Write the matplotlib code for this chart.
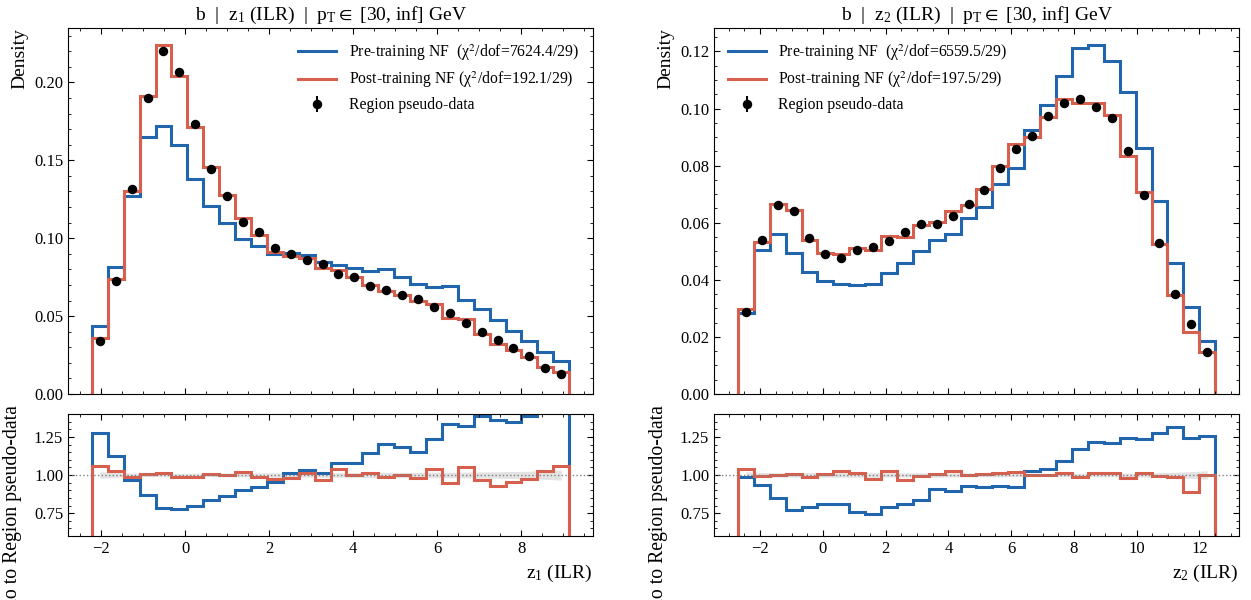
import matplotlib
matplotlib.use("Agg")
import matplotlib.pyplot as plt
import numpy as np
from matplotlib.ticker import AutoMinorLocator

plt.rcParams['font.family'] = 'serif'
plt.rcParams['font.serif'] = ['Liberation Serif', 'DejaVu Serif']
plt.rcParams['mathtext.fontset'] = 'stix'

# ---- z1 panel ----
z1_lo, z1_hi = -2.22, 9.14
z1_data = [0.0341, 0.0722, 0.1317, 0.1900, 0.2204, 0.2065, 0.1733, 0.1446, 0.1272, 0.1107,
           0.1037, 0.0940, 0.0898, 0.0861, 0.0835, 0.0769, 0.0752, 0.0690, 0.0668, 0.0634,
           0.0611, 0.0557, 0.0518, 0.0458, 0.0396, 0.0349, 0.0298, 0.0244, 0.0167, 0.0130]
z1_pre = [0.0436, 0.0812, 0.1271, 0.1651, 0.1721, 0.1600, 0.1381, 0.1209, 0.1099, 0.0995,
          0.0953, 0.0899, 0.0908, 0.0889, 0.0844, 0.0828, 0.0810, 0.0791, 0.0805, 0.0752,
          0.0703, 0.0687, 0.0690, 0.0605, 0.0548, 0.0475, 0.0402, 0.0339, 0.0272, 0.0212]
z1_post = [0.0361, 0.0741, 0.1303, 0.1913, 0.2237, 0.2042, 0.1714, 0.1459, 0.1275, 0.1131,
           0.1021, 0.0914, 0.0883, 0.0870, 0.0807, 0.0797, 0.0752, 0.0700, 0.0658, 0.0634,
           0.0598, 0.0578, 0.0490, 0.0483, 0.0383, 0.0324, 0.0285, 0.0237, 0.0171, 0.0138]
z1_relerr = [0.022, 0.016, 0.012, 0.010, 0.010, 0.010, 0.011, 0.012, 0.012, 0.013,
             0.013, 0.014, 0.014, 0.014, 0.015, 0.015, 0.015, 0.016, 0.016, 0.017,
             0.017, 0.018, 0.018, 0.019, 0.020, 0.021, 0.023, 0.025, 0.029, 0.033]

# ---- z2 panel ----
z2_lo, z2_hi = -2.71, 12.50
z2_data = [0.0288, 0.0539, 0.0662, 0.0642, 0.0545, 0.0490, 0.0478, 0.0504, 0.0516, 0.0537,
           0.0568, 0.0597, 0.0597, 0.0623, 0.0665, 0.0714, 0.0791, 0.0858, 0.0903, 0.0975,
           0.1018, 0.1034, 0.1006, 0.0966, 0.0851, 0.0696, 0.0530, 0.0350, 0.0245, 0.0147]
z2_pre = [0.0285, 0.0503, 0.0561, 0.0494, 0.0429, 0.0397, 0.0386, 0.0381, 0.0384, 0.0425,
          0.0460, 0.0501, 0.0541, 0.0559, 0.0617, 0.0656, 0.0736, 0.0792, 0.0926, 0.1011,
          0.1113, 0.1213, 0.1221, 0.1167, 0.1059, 0.0860, 0.0677, 0.0460, 0.0305, 0.0185]
z2_post = [0.0299, 0.0534, 0.0664, 0.0646, 0.0539, 0.0494, 0.0490, 0.0512, 0.0503, 0.0552,
           0.0550, 0.0593, 0.0602, 0.0641, 0.0663, 0.0719, 0.0800, 0.0875, 0.0901, 0.0972,
           0.1033, 0.1019, 0.1018, 0.0978, 0.0832, 0.0706, 0.0527, 0.0346, 0.0218, 0.0147]
z2_relerr = [0.022, 0.016, 0.014, 0.014, 0.015, 0.015, 0.015, 0.015, 0.015, 0.014,
             0.014, 0.014, 0.014, 0.013, 0.013, 0.012, 0.012, 0.011, 0.011, 0.011,
             0.010, 0.010, 0.010, 0.011, 0.012, 0.013, 0.015, 0.018, 0.022, 0.028]

panels = [
    dict(lo=z1_lo, hi=z1_hi, data=z1_data, pre=z1_pre, post=z1_post, relerr=z1_relerr,
         var='$\\mathregular{z_1}$', chi_pre='7624.4', chi_post='192.1', legloc='upper right'),
    dict(lo=z2_lo, hi=z2_hi, data=z2_data, pre=z2_pre, post=z2_post, relerr=z2_relerr,
         var='$\\mathregular{z_2}$', chi_pre='6559.5', chi_post='197.5', legloc='upper left'),
]

blue = '#2166ac'
red = '#d6604d'

fig = plt.figure(figsize=(12.51, 6), dpi=100)
lefts = [68 / 1251, 714 / 1251]
width = 525 / 1251

for p, x0 in zip(panels, lefts):
    ax = fig.add_axes([x0, 206 / 600, width, 366 / 600])
    rax = fig.add_axes([x0, 64 / 600, width, 122 / 600], sharex=ax)

    edges = np.linspace(p['lo'], p['hi'], len(p['data']) + 1)
    centers = 0.5 * (edges[1:] + edges[:-1])
    data = np.array(p['data'])
    pre = np.array(p['pre'])
    post = np.array(p['post'])
    rel = np.array(p['relerr'])

    ax.stairs(pre, edges, color=blue, lw=2.2,
              label='Pre-training NF  (χ$^2$/dof=%s/29)' % p['chi_pre'])
    ax.stairs(post, edges, color=red, lw=2.2,
              label='Post-training NF (χ$^2$/dof=%s/29)' % p['chi_post'])
    ax.errorbar(centers, data, yerr=data * rel, fmt='o', color='black', ms=5.8,
                elinewidth=1.5, label='Region pseudo-data', zorder=5)

    R = p['hi'] - p['lo']
    ax.set_xlim(p['lo'] - 0.05 * R, p['hi'] + 0.05 * R)
    ax.set_ylim(0, 1.05 * max(pre.max(), post.max(), data.max()))
    ax.set_ylabel('Density', fontsize=14, loc='top')
    ax.set_title('b  |  %s (ILR)  |  $\\mathregular{p_T} \\in$ [30, inf] GeV' % p['var'],
                 fontsize=14)
    ax.legend(loc=p['legloc'], frameon=False, fontsize=11.3, handlelength=2.4,
              labelspacing=0.45)
    ax.tick_params(labelbottom=False)

    rax.fill_between(centers, 1 - rel, 1 + rel, color='grey', alpha=0.22, lw=0)
    rax.axhline(1.0, color='grey', ls=':', lw=1)
    rax.stairs(pre / data, edges, color=blue, lw=2.2)
    rax.stairs(post / data, edges, color=red, lw=2.2)
    rax.set_ylim(0.6, 1.4)
    rax.set_yticks([0.75, 1.00, 1.25])
    rax.set_xlabel('%s (ILR)' % p['var'], fontsize=14, loc='right')
    rax.set_ylabel('Ratio to Region pseudo-data', fontsize=14.2, loc='top')
    rax.yaxis.set_label_coords(-0.087, 1.074)

    for a in (ax, rax):
        a.xaxis.set_minor_locator(AutoMinorLocator())
        a.yaxis.set_minor_locator(AutoMinorLocator())
        a.tick_params(which='both', direction='in', top=True, right=True, labelsize=12)
        a.tick_params(which='major', length=4.5)
        a.tick_params(which='minor', length=2.2)

fig.savefig('out.png', dpi=100)
